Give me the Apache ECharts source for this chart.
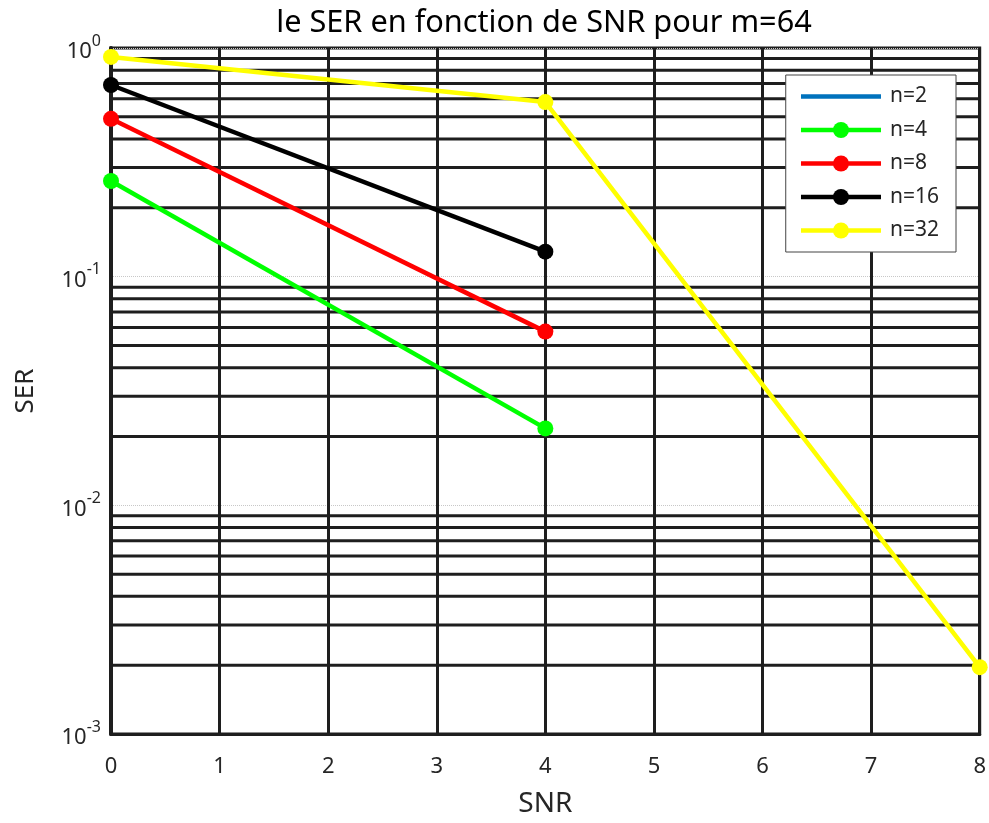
<!DOCTYPE html>
<html><head><meta charset="utf-8">
<script src="https://cdn.jsdelivr.net/npm/echarts@6/dist/echarts.min.js"></script>
<style>html,body{margin:0;padding:0;background:#fff}#c{width:989px;height:823px}</style>
</head><body><div id="c"></div>
<script>
const snr = [0, 4, 8];
const serN2 = [];
const serN4 = [0.262, 0.0217];
const serN8 = [0.49, 0.0575];
const serN16 = [0.689, 0.1286];
const serN32 = [0.914, 0.58, 0.00196];
const seriesNames = ['n=2', 'n=4', 'n=8', 'n=16', 'n=32'];
const seriesValues = [serN2, serN4, serN8, serN16, serN32];
const seriesColors = ['#0072bd', '#00ff00', '#ff0000', '#000000', '#ffff00'];
const xTicks = [0, 1, 2, 3, 4, 5, 6, 7, 8];
const yDecades = [1e-3, 1e-2, 1e-1, 1];
const minorMultipliers = [2, 3, 4, 5, 6, 7, 8, 9];

const FONT = 'Noto Sans';
const X_MIN = xTicks[0], X_MAX = xTicks[xTicks.length - 1];
const minorVals = [];
for (let i = 0; i < yDecades.length - 1; i++) {
  minorMultipliers.forEach(m => minorVals.push([X_MIN, m * yDecades[i]]));
}

const chart = echarts.init(document.getElementById('c'));
const dataSeries = seriesNames.map((name, i) => ({
  name: name,
  type: 'line',
  z: 3,
  data: seriesValues[i].map((v, j) => [snr[j], v]),
  symbol: 'circle',
  symbolSize: 16,
  showSymbol: i !== 0,
  color: seriesColors[i],
  lineStyle: { width: 4.5, color: seriesColors[i] },
  itemStyle: { color: seriesColors[i] },
  emphasis: { disabled: true },
  animation: false
}));

const gridSeries = {
  name: '_grid',
  type: 'custom',
  z: 1,
  silent: true,
  animation: false,
  data: minorVals,
  encode: { x: 0, y: 1 },
  renderItem: function (params, api) {
    const v = api.value(1);
    const p1 = api.coord([X_MIN, v]);
    const p2 = api.coord([X_MAX, v]);
    return {
      type: 'line',
      shape: { x1: p1[0], y1: p1[1], x2: p2[0], y2: p2[1] },
      style: { stroke: '#1e1e1e', lineWidth: 3 }
    };
  }
};

const legendData = seriesNames.map((n, i) => i === 0
  ? { name: n, icon: 'path://M0,0 L80,0 L80,4.5 L0,4.5 Z', itemStyle: { color: seriesColors[0] } }
  : { name: n });

chart.setOption({
  animation: false,
  backgroundColor: '#fff',
  title: {
    text: 'le SER en fonction de SNR pour m=64',
    left: 539,
    textAlign: 'center',
    top: 3,
    textStyle: { fontFamily: FONT, fontSize: 30.7, fontWeight: 'normal', color: '#000' }
  },
  grid: {
    left: 111, right: 9, top: 48, bottom: 88,
    show: true, borderColor: '#1e1e1e', borderWidth: 3, backgroundColor: '#fff'
  },
  legend: {
    data: legendData,
    orient: 'vertical',
    right: 33,
    top: 75,
    itemWidth: 80,
    itemHeight: 20,
    itemGap: 12.5,
    padding: [11, 17, 11, 13],
    backgroundColor: '#fff',
    borderColor: '#444',
    borderWidth: 1,
    borderRadius: 0,
    z: 10,
    lineStyle: { width: 4.5 },
    textStyle: { fontFamily: FONT, fontSize: 21, color: '#262626', padding: [0, 0, 0, 4] }
  },
  xAxis: {
    type: 'value',
    min: X_MIN, max: X_MAX, interval: 1,
    name: 'SNR',
    nameLocation: 'middle',
    nameGap: 56,
    nameTextStyle: { fontFamily: FONT, fontSize: 28, color: '#262626' },
    axisLine: { show: true, onZero: false, lineStyle: { color: '#1e1e1e', width: 3 } },
    axisTick: { show: false },
    axisLabel: { fontFamily: FONT, fontSize: 22, color: '#262626', margin: 22,
      formatter: v => xTicks.includes(v) ? String(v) : '' },
    splitLine: { show: true, lineStyle: { color: '#1e1e1e', width: 3 } }
  },
  yAxis: {
    type: 'log',
    logBase: 10,
    min: yDecades[0], max: yDecades[yDecades.length - 1],
    name: 'SER',
    nameLocation: 'middle',
    nameGap: 72,
    nameTextStyle: { fontFamily: FONT, fontSize: 26, color: '#262626' },
    axisLine: { show: true, lineStyle: { color: '#1e1e1e', width: 4 } },
    axisTick: { show: false },
    axisLabel: {
      margin: 10,
      formatter: v => '{b|10}{s|' + Math.round(Math.log10(v)) + '}',
      rich: {
        b: { fontFamily: FONT, fontSize: 22, color: '#262626', lineHeight: 30, verticalAlign: 'bottom' },
        s: { fontFamily: FONT, fontSize: 16, color: '#262626', lineHeight: 16, verticalAlign: 'top' }
      }
    },
    splitLine: { show: true, lineStyle: { color: '#c8c8c8', width: 1, type: 'dotted' } }
  },
  series: [gridSeries].concat(dataSeries)
});
</script></body></html>
